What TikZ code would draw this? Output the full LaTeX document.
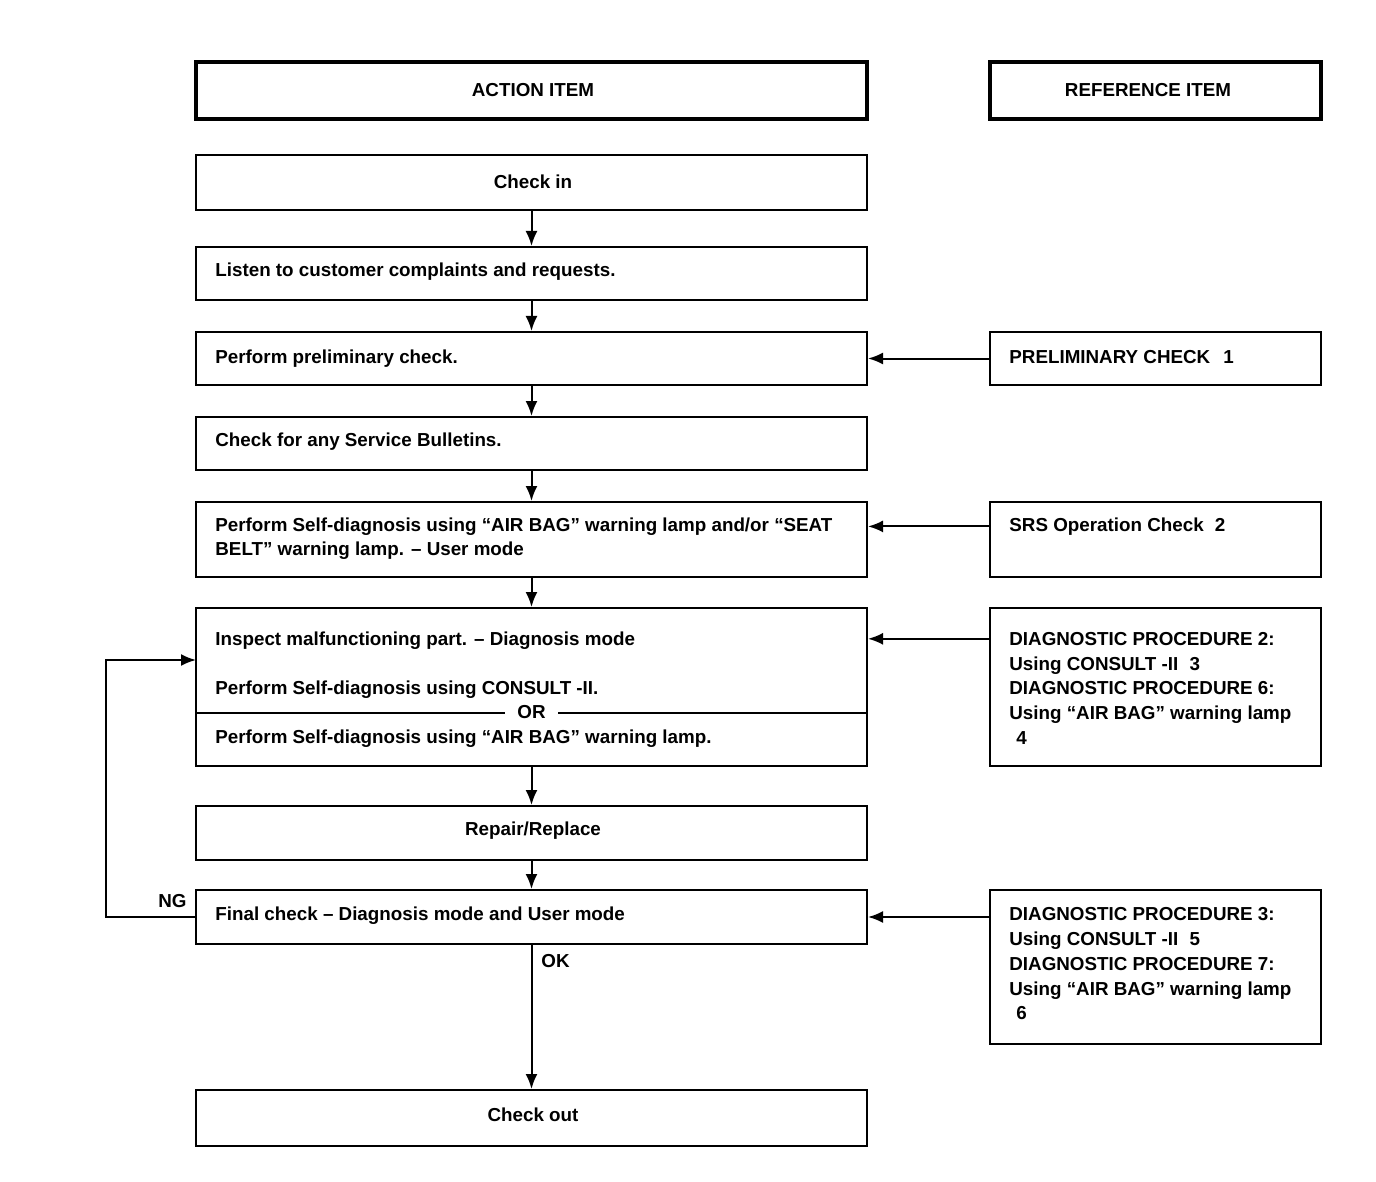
\documentclass[tikz,border=0pt]{standalone}
\usepackage{fontspec}
\setmainfont{Liberation Sans}
\usetikzlibrary{arrows.meta,fit}
\tikzset{
  box/.style={draw, line width=1pt, inner sep=0pt},
  hbox/.style={draw, line width=1.9pt, inner sep=0pt},
  txt/.style={anchor=mid west, inner sep=0pt, font=\bfseries\fontsize{9.4}{11}\selectfont},
  ctxt/.style={anchor=mid, inner sep=0pt, font=\bfseries\fontsize{9.4}{11}\selectfont},
  arr/.style={line width=1pt, -{Latex[length=7.5pt,width=6pt]}},
  ln/.style={line width=1pt},
}
\begin{document}
\begin{tikzpicture}[x=0.5pt,y=-0.5pt]
\useasboundingbox (0,0) rectangle (1376,1182);
% headers
\node[hbox, fit={(196,62)(867,119)}] (hact) {};
\node[ctxt] (hacttxt) at (533,91) {ACTION ITEM};
\node[hbox, fit={(990,62)(1321,119)}] (href) {};
\node[ctxt] (hreftxt) at (1148,91) {REFERENCE ITEM};
% left column
\node[box, fit={(196,155)(867,210)}] (checkin) {};
\node[ctxt] (checkintxt) at (533,183) {Check in};
\node[box, fit={(196,247)(867,300)}] (listen) {};
\node[txt] (listentxt) at (215,271) {Listen to customer complaints and requests.};
\node[box, fit={(196,332)(867,385)}] (prelim) {};
\node[txt] (prelimtxt) at (215,358) {Perform preliminary check.};
\node[box, fit={(196,417)(867,470)}] (bull) {};
\node[txt] (bulltxt) at (215,441) {Check for any Service Bulletins.};
\node[box, fit={(196,502)(867,577)}] (self) {};
\node[txt] (selftxta) at (215,526) {Perform Self-diagnosis using “AIR BAG” warning lamp and/or “SEAT};
\node[txt] (selftxtb) at (215,550) {BELT” warning lamp. -- User mode};
\node[box, fit={(196,608)(867,766)}] (insp) {};
\node[txt] (insptxta) at (215,640) {Inspect malfunctioning part. -- Diagnosis mode};
\node[txt] (insptxtb) at (215,689) {Perform Self-diagnosis using CONSULT -II.};
\coordinate (orl) at (196,713);
\coordinate (orr) at (867,713);
\draw[ln] (orl) -- (orr) node[ctxt, midway, fill=white, inner xsep=6pt] (ortxt) {OR};
\node[txt] (insptxtc) at (215,738) {Perform Self-diagnosis using “AIR BAG” warning lamp.};
\node[box, fit={(196,806)(867,860)}] (repair) {};
\node[ctxt] (repairtxt) at (533,830) {Repair/Replace};
\node[box, fit={(196,890)(867,944)}] (final) {};
\node[txt] (finaltxt) at (215,915) {Final check -- Diagnosis mode and User mode};
\node[box, fit={(196,1090)(867,1146)}] (checkout) {};
\node[ctxt] (checkouttxt) at (533,1116) {Check out};
% right column
\node[box, fit={(990,332)(1321,385)}] (rprelim) {};
\node[txt] (rprelimtxt) at (1009,358) {PRELIMINARY CHECK\hspace{0.7em}1};
\node[box, fit={(990,502)(1321,577)}] (rsrs) {};
\node[txt] (rsrstxt) at (1009,526) {SRS Operation Check\hspace{0.6em}2};
\node[box, fit={(990,608)(1321,766)}] (rdiag2) {};
\node[txt] (rd2a) at (1009,640) {DIAGNOSTIC PROCEDURE 2:};
\node[txt] (rd2b) at (1009,665) {Using CONSULT -II\hspace{0.6em}3};
\node[txt] (rd2c) at (1009,689) {DIAGNOSTIC PROCEDURE 6:};
\node[txt] (rd2d) at (1009,714) {Using “AIR BAG” warning lamp};
\node[txt] (rd2e) at (1016,739) {4};
\node[box, fit={(990,890)(1321,1044)}] (rdiag3) {};
\node[txt] (rd3a) at (1009,915) {DIAGNOSTIC PROCEDURE 3:};
\node[txt] (rd3b) at (1009,940) {Using CONSULT -II\hspace{0.6em}5};
\node[txt] (rd3c) at (1009,965) {DIAGNOSTIC PROCEDURE 7:};
\node[txt] (rd3d) at (1009,990) {Using “AIR BAG” warning lamp};
\node[txt] (rd3e) at (1016,1014) {6};
% vertical arrows
\draw[arr] (checkin.south) -- (listen.north);
\draw[arr] (listen.south) -- (prelim.north);
\draw[arr] (prelim.south) -- (bull.north);
\draw[arr] (bull.south) -- (self.north);
\draw[arr] (self.south) -- (insp.north);
\draw[arr] (insp.south) -- (repair.north);
\draw[arr] (repair.south) -- (final.north);
\draw[arr] (final.south) -- (checkout.north);
\node[txt, anchor=mid west] (oktxt) at (541,962) {OK};
% horizontal arrows from reference items
\draw[arr] (rprelim.west) -- (prelim.east);
\draw[arr] (rsrs.west |- rsrstxt.west) -- (self.east |- rsrstxt.west);
\draw[arr] (rdiag2.west |- rd2a.west) -- (insp.east |- rd2a.west);
\draw[arr] (rdiag3.west |- final.east) -- (final.east);
% NG loop
\coordinate (ngin) at (196,660);
\draw[arr] (final.west) -- ++(-89,0) coordinate (ngcorner) |- (ngin);
\node[txt, anchor=mid east] (ngtxt) at (187,902) {NG};
\end{tikzpicture}
\end{document}
